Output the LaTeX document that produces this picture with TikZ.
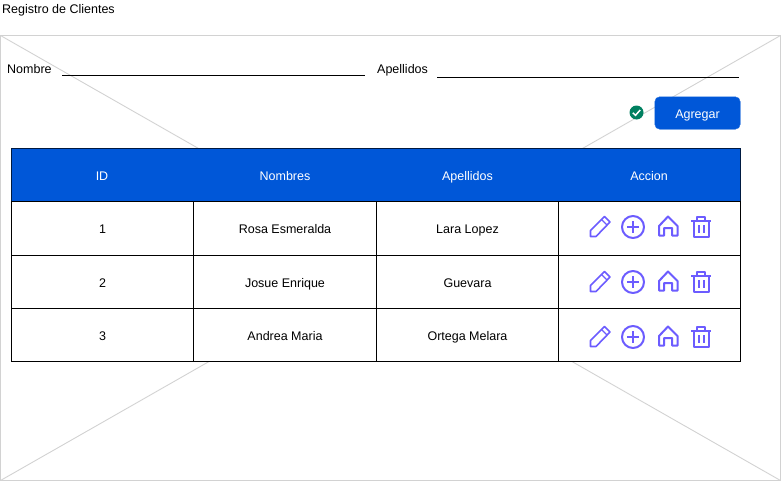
\documentclass[tikz,border=0pt]{standalone}
\usepackage{fontspec}
\setmainfont{Liberation Sans}
\usepackage{tikz}
\usetikzlibrary{calc}
\definecolor{tablablue}{HTML}{0057D8}
\definecolor{iconviolet}{HTML}{6C5CFF}
\definecolor{okgreen}{HTML}{008060}
\definecolor{framegray}{HTML}{D2D2D2}
\tikzset{
  txt/.style={font=\fontsize{12.5}{14}\selectfont, inner sep=0pt, text height=13pt, text depth=3pt},
  whitetxt/.style={txt, text=white},
  celda/.style={txt, draw=black, line width=0.8pt, minimum height=#1, minimum width=182pt, outer sep=0pt},
  icono/.style={draw=iconviolet, line width=2pt, line join=round},
}
\begin{document}
\begin{tikzpicture}[x=1pt, y=-1pt]
    \useasboundingbox (0, 0) rectangle (781, 482);
    % marco de la imagen
    \draw[framegray, line width=0.9pt] (0.5, 35.5) rectangle (780.5, 480.5);
    \draw[framegray, line width=0.9pt] (0.5, 35.5)--(780.5, 480.5);
    \draw[framegray, line width=0.9pt] (780.5, 35.5)--(0.5, 480.5);
    \node[txt, anchor=west] (titulo) at (2, 8.5) {Registro de Clientes};
    % formulario
    \node[txt, anchor=west] (nombre) at (7, 68.5) {Nombre};
    \node[txt, anchor=west] (apellidos) at (377, 68.5) {Apellidos};
    \coordinate (nombreA) at (62, 75.5);
    \coordinate (nombreB) at (365, 75.5);
    \coordinate (apellidosA) at (437, 77);
    \coordinate (apellidosB) at (739, 77);
    \draw[line width=0.8pt] (nombreA)--(nombreB);
    \draw[line width=0.8pt] (apellidosA)--(apellidosB);
    \node[fill=okgreen, circle, minimum size=14pt, inner sep=0pt] (ok) at (636.5, 112.5) {};
    \draw[white, line width=1.5pt] (632.8, 112.8)--(635.5, 115.3)--(640.2, 110);
    \node[whitetxt, fill=tablablue, draw=tablablue!85!white, rounded corners=5pt, minimum width=85.5pt, minimum height=32.5pt] (agregar) at (697.5, 113) {Agregar};
    % tabla
    \node[celda=53pt, fill=tablablue, draw=black!70!tablablue, minimum width=729pt] (cabecera) at (376, 175) {};
    \foreach \x/\name/\t in {102/id/ID, 285/nombres/Nombres, 467.5/apellidos/Apellidos, 649/accion/Accion}
      \node[whitetxt] (h\name) at (\x, 175.5) {\t};
    \foreach \y/\h/\n/\b/\c in {228.5/54pt/1/Rosa Esmeralda/Lara Lopez, 282/53pt/2/Josue Enrique/Guevara, 335/53pt/3/Andrea Maria/Ortega Melara} {
      \node[celda=\h, fill=white] (id\n) at (102.5, \y) {\n};
      \node[celda=\h, fill=white, minimum width=183pt] (nom\n) at (285, \y) {\b};
      \node[celda=\h, fill=white] (ape\n) at (467.5, \y) {\c};
      \node[celda=\h, fill=white] (acc\n) at (649.5, \y) {};
    }
    % iconos
    \foreach \y in {227, 282, 337} {
      % lapiz
      \draw[icono, line width=1.6pt] (590.5, \y+9.5)--(590.5, \y+3.5)--(604.5, \y-10.5)--(610, \y-5)--(596, \y+9.5)--cycle;
      \draw[icono, line width=1.2pt] (601.5, \y-7.5)--(607, \y-2);
      % circulo
      \draw[icono] (633, \y) circle (11);
      \draw[icono] (627, \y)--(639, \y);
      \draw[icono] (633, \y-6)--(633, \y+6);
      % casa
      \draw[icono] (659, \y-1)--(668, \y-10.5)--(677.5, \y-1)--(677.5, \y+8.5)--(672, \y+8.5)--(672, \y+1)--(664, \y+1)--(664, \y+8.5)--(659, \y+8.5)--cycle;
      % papelera
      \draw[icono] (693.5, \y-6)--(693.5, \y+10)--(708.5, \y+10)--(708.5, \y-6);
      \draw[icono] (691, \y-6.5)--(711, \y-6.5);
      \draw[icono] (697, \y-7)--(697, \y-10)--(705, \y-10)--(705, \y-7);
      \draw[icono] (698.5, \y-2)--(698.5, \y+6);
      \draw[icono] (703.5, \y-2)--(703.5, \y+6);
    }
  \end{tikzpicture}
\end{document}
